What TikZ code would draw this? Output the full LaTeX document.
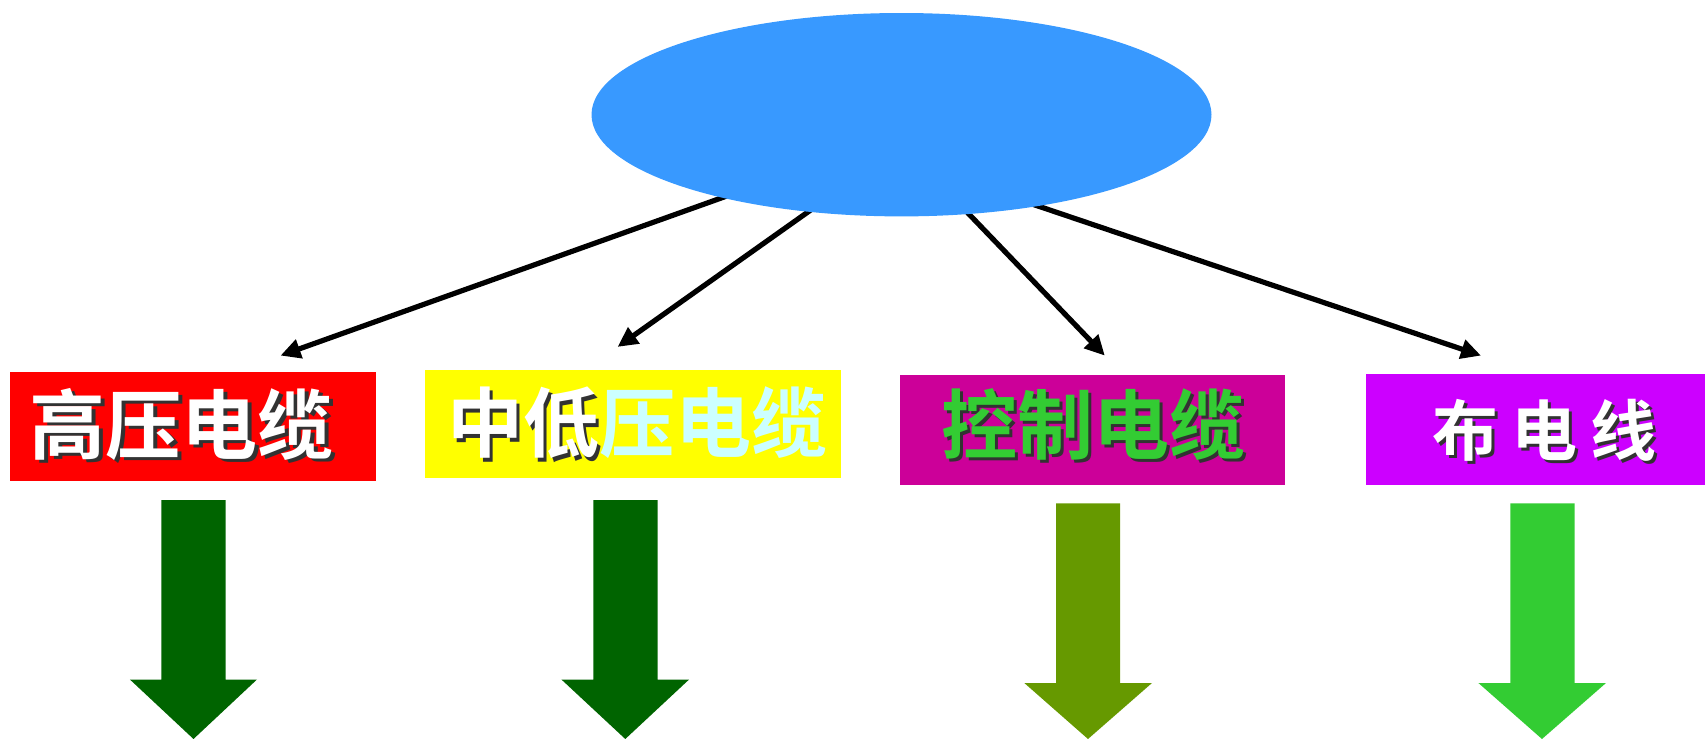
\documentclass[tikz,border=0pt]{standalone}
\usepackage{fontspec}
\newfontfamily\cjk{Noto Sans CJK SC}[BoldFont={Noto Sans CJK SC Bold}]
\usetikzlibrary{shapes.geometric,arrows.meta}
\definecolor{ellblue}{RGB}{56,153,255}
\definecolor{boxred}{RGB}{255,0,0}
\definecolor{boxyellow}{RGB}{255,255,0}
\definecolor{boxmagenta}{RGB}{204,0,153}
\definecolor{boxpurple}{RGB}{204,0,255}
\definecolor{dkgreen}{RGB}{0,100,0}
\definecolor{olivegreen}{RGB}{102,153,0}
\definecolor{limegreen}{RGB}{51,204,51}
\definecolor{lightcyan}{RGB}{204,255,255}
\definecolor{shadowgray}{RGB}{50,50,50}
% text with a drop shadow inside one box
\newcommand\dropshadowed[2]{\makebox[0pt][l]{\kern1.7pt\raisebox{-1.7pt}{\color{shadowgray}#2}}{\color{#1}#2}}
\begin{document}
\begin{tikzpicture}[x=0.5pt,y=-0.5pt,
  conn/.style={line width=2.6pt,-{Triangle[length=10pt,width=9.5pt]}},
  catbox/.style={rectangle,draw=none,inner sep=0pt},
  cattext/.style={inner sep=0pt,font=\cjk\bfseries\fontsize{38pt}{40pt}\selectfont}
]
\useasboundingbox (0,0) rectangle (1705,739);

% connectors (drawn first, ellipse covers their starts)
\coordinate (s1) at (766,182);
\coordinate (s2) at (846,185);
\coordinate (s3) at (942,186);
\coordinate (s4) at (992,190.5);
\coordinate (t1) at (280.5,355.6);
\coordinate (t2) at (617.6,346.9);
\coordinate (t3) at (1104.8,355.6);
\coordinate (t4) at (1481,355.6);
\draw[conn] (s1) -- (t1);
\draw[conn] (s2) -- (t2);
\draw[conn] (s3) -- (t3);
\draw[conn] (s4) -- (t4);

% top ellipse
\node[ellipse,fill=ellblue,draw=none,inner sep=0pt,minimum width=310pt,minimum height=101.7pt] (top) at (901.5,114.7) {};

% boxes
\node[catbox,fill=boxred,minimum width=183pt,minimum height=54.5pt] (b1) at (193,426.5) {};
\node[catbox,fill=boxyellow,minimum width=208pt,minimum height=53.75pt] (b2) at (633,423.75) {};
\node[catbox,fill=boxmagenta,minimum width=192.5pt,minimum height=54.85pt] (b3) at (1092.5,429.85) {};
\node[catbox,fill=boxpurple,minimum width=169.5pt,minimum height=55.35pt] (b4) at (1535.5,429.65) {};

% labels
\node[cattext] (l1) at (182,426) {\dropshadowed{white}{高压电缆}};
\node[cattext] (l2) at (637.5,424.5) {\dropshadowed{white}{中低}{\color{lightcyan}压电缆}};
\node[cattext] (l3) at (1093.5,426) {\dropshadowed{limegreen}{控制电缆}};
\node[cattext,font=\cjk\bfseries\fontsize{33pt}{36pt}\selectfont] (l4) at (1544.5,432) {\dropshadowed{white}{布\hspace{6.5pt}电\hspace{6.5pt}线}};

% block arrows
\fill[dkgreen] (161.4,500) -- (225.6,500) -- (225.6,679.5) -- (257,679.5) -- (193.5,739) -- (129.9,679.5) -- (161.4,679.5) -- cycle;
\fill[dkgreen] (593.4,500) -- (657.6,500) -- (657.6,679.5) -- (689.1,679.5) -- (625.3,739) -- (561.4,679.5) -- (593.4,679.5) -- cycle;
\fill[olivegreen] (1056.2,503.3) -- (1120,503.3) -- (1120,683) -- (1152,683) -- (1088,739) -- (1024.3,683) -- (1056.2,683) -- cycle;
\fill[limegreen] (1510.3,503.3) -- (1574.6,503.3) -- (1574.6,683) -- (1606,683) -- (1542,739) -- (1478.4,683) -- (1510.3,683) -- cycle;
\end{tikzpicture}
\end{document}
